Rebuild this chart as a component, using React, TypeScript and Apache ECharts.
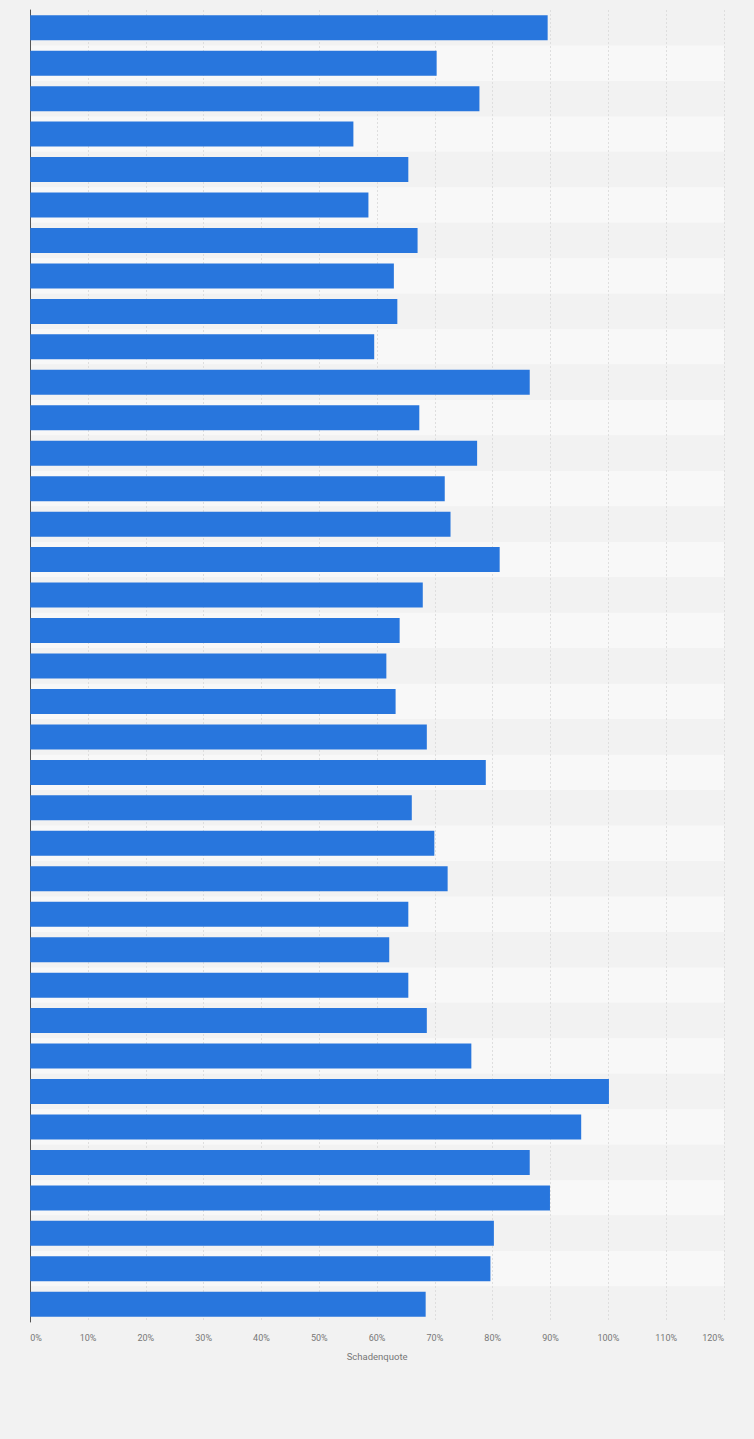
import React, { useEffect, useRef } from "react";
import * as echarts from "echarts";

const categories: string[] = Array.from({ length: 37 }, (_, i) => `${i + 1}`);

const schadenquote: number[] = [
  89.5, 70.3, 77.7, 55.9, 65.4, 58.5, 67.0, 62.9, 63.5, 59.5,
  86.4, 67.3, 77.3, 71.7, 72.7, 81.2, 67.9, 63.9, 61.6, 63.2,
  68.6, 78.8, 66.0, 69.9, 72.2, 65.4, 62.1, 65.4, 68.6, 76.3,
  100.1, 95.3, 86.4, 89.9, 80.2, 79.6, 68.4,
];

const axisName = "Schadenquote";

export default function App() {
  const ref = useRef<HTMLDivElement>(null);

  useEffect(() => {
    document.body.style.margin = "0";
    document.body.style.background = "#f2f2f2";
    if (!ref.current) return;
    const chart = echarts.init(ref.current, undefined, { renderer: "svg" });
    chart.setOption({
      animation: false,
      backgroundColor: "#f2f2f2",
      grid: { left: 30.2, right: 30, top: 10, bottom: 117, containLabel: false },
      xAxis: {
        type: "value",
        min: 0,
        max: 120,
        interval: 10,
        name: axisName,
        nameLocation: "middle",
        nameGap: 29,
        nameTextStyle: { color: "#777", fontSize: 9.5, fontFamily: "Roboto" },
        axisLine: { show: false },
        axisTick: { show: false },
        axisLabel: {
          formatter: "{value}%",
          color: "#777",
          fontSize: 9,
          fontFamily: "Roboto",
          margin: 11,
          alignMinLabel: "left",
          alignMaxLabel: "right",
        },
        splitLine: { show: true, lineStyle: { color: "#dedede", type: [2, 2], width: 1 } },
      },
      yAxis: {
        type: "category",
        data: categories,
        inverse: true,
        axisLabel: { show: false },
        axisTick: { show: false },
        axisLine: { show: true, lineStyle: { color: "#555", width: 1 } },
        splitArea: { show: true, areaStyle: { color: ["#f2f2f2", "#f8f8f8"] } },
        splitLine: { show: false },
      },
      series: [
        {
          type: "bar",
          data: schadenquote,
          barWidth: 25,
          itemStyle: { color: "#2876dd" },
        },
      ],
    });
    return () => chart.dispose();
  }, []);

  return <div ref={ref} style={{ width: 754, height: 1439 }} />;
}
